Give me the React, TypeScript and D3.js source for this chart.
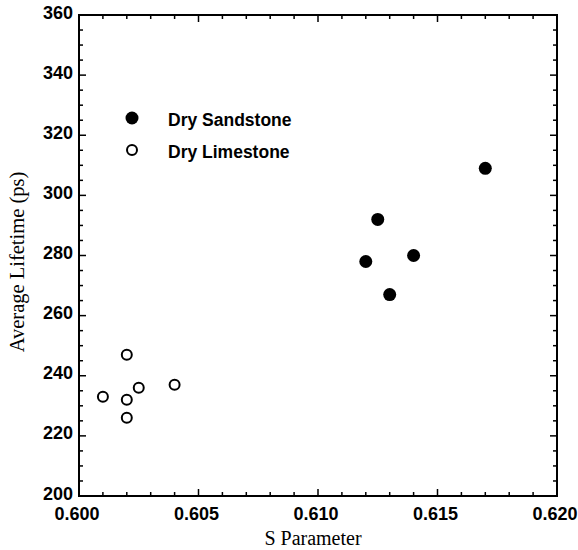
import React from "react";
import * as d3 from "d3";

const sandstoneS = [0.612, 0.6125, 0.613, 0.614, 0.617];
const sandstoneL = [278, 292, 267, 280, 309];
const limestoneS = [0.601, 0.602, 0.602, 0.602, 0.6025, 0.604];
const limestoneL = [233, 247, 232, 226, 236, 237];
const xTicks = [0.6, 0.605, 0.61, 0.615, 0.62];
const yTicks = [200, 220, 240, 260, 280, 300, 320, 340, 360];
const legendLabels = ["Dry Sandstone", "Dry Limestone"];

const W = 578, H = 550;
const L = 79, R = 557, T = 15, B = 496;

export default function App() {
  const x = d3.scaleLinear().domain([0.6, 0.62]).range([L, R]);
  const y = d3.scaleLinear().domain([200, 360]).range([B, T]);
  const xMinor = d3.range(0, 21).map((i) => 0.6 + i * 0.001);
  const yMinor = d3.range(0, 33).map((i) => 200 + i * 5);
  const isMajorX = (v: number) => Math.abs(Math.round(v * 200) - v * 200) < 1e-6;
  const isMajorY = (v: number) => v % 20 === 0;
  const sans = "'Liberation Sans', Arial, sans-serif";
  const serif = "'Liberation Serif', 'Times New Roman', serif";
  return (
    <svg width={W} height={H} style={{ position: "absolute", left: 0, top: 0, background: "#fff" }}>
      <rect x={0} y={0} width={W} height={H} fill="#fff" />
      {xMinor.map((v, i) => {
        const len = isMajorX(v) ? 7 : 4;
        return (
          <g key={"xt" + i} stroke="#000" strokeWidth={1.5}>
            <line x1={x(v)} x2={x(v)} y1={B} y2={B - len} />
            <line x1={x(v)} x2={x(v)} y1={T} y2={T + len} />
          </g>
        );
      })}
      {yMinor.map((v, i) => {
        const len = isMajorY(v) ? 7 : 4;
        return (
          <g key={"yt" + i} stroke="#000" strokeWidth={1.5}>
            <line x1={L} x2={L + len} y1={y(v)} y2={y(v)} />
            <line x1={R} x2={R - len} y1={y(v)} y2={y(v)} />
          </g>
        );
      })}
      <rect x={L} y={T} width={R - L} height={B - T} fill="none" stroke="#000" strokeWidth={2} />
      {xTicks.map((v, i) => (
        <text key={"xl" + i} x={x(v) - 2} y={520} textAnchor="middle" fontFamily={sans} fontWeight="bold" fontSize={18}>
          {v.toFixed(3)}
        </text>
      ))}
      {yTicks.map((v, i) => (
        <text key={"yl" + i} x={73} y={y(v) + 3.5} textAnchor="end" fontFamily={sans} fontWeight="bold" fontSize={18}>
          {v}
        </text>
      ))}
      <text x={313} y={545} textAnchor="middle" fontFamily={serif} fontSize={20}>S Parameter</text>
      <text transform={`translate(24,262) rotate(-90)`} textAnchor="middle" fontFamily={serif} fontSize={20.5}>
        Average Lifetime (ps)
      </text>
      {sandstoneS.map((s, i) => (
        <circle key={"s" + i} cx={x(s)} cy={y(sandstoneL[i])} r={6.5} fill="#000" />
      ))}
      {limestoneS.map((s, i) => (
        <circle key={"l" + i} cx={x(s)} cy={y(limestoneL[i])} r={5} fill="#fff" stroke="#000" strokeWidth={2} />
      ))}
      <circle cx={132} cy={118} r={6.5} fill="#000" />
      <circle cx={132} cy={150} r={5} fill="#fff" stroke="#000" strokeWidth={2} />
      <text x={168} y={126} fontFamily={sans} fontWeight="bold" fontSize={17.5}>{legendLabels[0]}</text>
      <text x={168} y={158} fontFamily={sans} fontWeight="bold" fontSize={17.5}>{legendLabels[1]}</text>
    </svg>
  );
}
